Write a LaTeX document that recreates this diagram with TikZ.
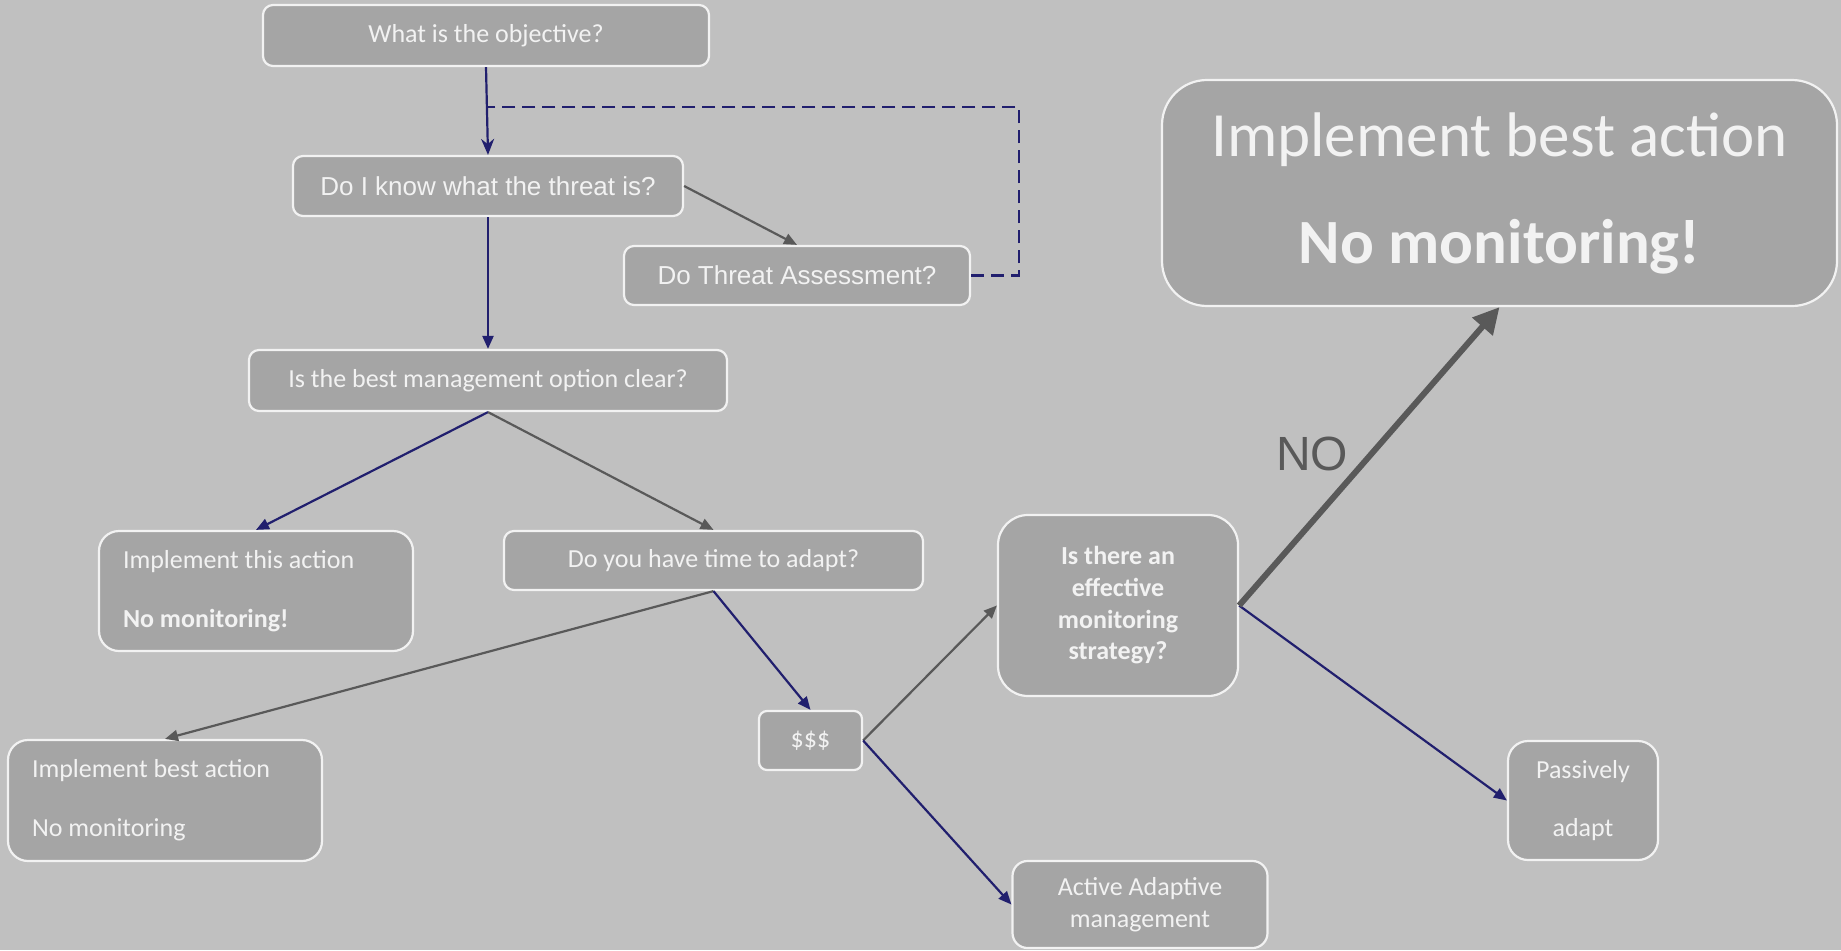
\documentclass[tikz,border=0pt]{standalone}
\usepackage{fontspec}
\setmainfont{Carlito}
\newfontfamily\arialfont{Liberation Sans}
\usetikzlibrary{arrows.meta}
\definecolor{canvas}{HTML}{C0C0C0}
\definecolor{boxfill}{HTML}{A5A5A5}
\definecolor{boxline}{HTML}{F2F2F2}
\definecolor{navy}{RGB}{33,31,110}
\definecolor{darkline}{HTML}{595959}

\begin{document}
\begin{tikzpicture}[x=1pt,y=-1pt,
  box/.style={draw=boxline, line width=2.2pt, fill=boxfill, text=boxline,
    inner sep=0pt, rounded corners=#1, align=center,
    font=\fontsize{26}{31.7}\selectfont},
  box/.default=10pt,
  leftbox/.style={align=flush left, inner xsep=24pt, text width=#1},
  arialtext/.style={font=\arialfont\fontsize{26}{31}\selectfont},
  gapped/.style={font=\fontsize{26}{58.7}\selectfont},
  yes/.style={draw=navy, line width=2.2pt, -{Triangle[length=13pt,width=11pt]}},
  no/.style={draw=darkline, line width=2.2pt, -{Triangle[length=13pt,width=11pt]}},
  loopback/.style={draw=navy, line width=2.8pt, dash pattern=on 13pt off 7pt},
  bigarrow/.style={draw=darkline, line width=6pt, -{Triangle[length=26pt,width=26pt]}}
]
% canvas
\fill[canvas] (0,0) rectangle (1841,950);
\useasboundingbox (0,0) rectangle (1841,950);

% question and action boxes
\node[box, minimum width=446pt, minimum height=61pt] (b1) at (486,35.5)
  {What is the objective?};
\node[box, arialtext, minimum width=390pt, minimum height=60pt] (b2) at (488,186)
  {Do I know what the threat is?};
\node[box, arialtext, minimum width=346pt, minimum height=59pt] (b3) at (797,275.5)
  {Do Threat Assessment?};
\node[box, minimum width=478pt, minimum height=61pt] (b4) at (488,380.5)
  {Is the best management option clear?};
\node[box=20pt, gapped, leftbox=266pt, minimum width=314pt, minimum height=120pt] (b5) at (256,591)
  {Implement this action\\\textbf{No monitoring!}};
\node[box, minimum width=419pt, minimum height=59pt] (b6) at (713.5,560.5)
  {Do you have time to adapt?};
\node[box=20pt, gapped, leftbox=266pt, minimum width=314pt, minimum height=121pt] (b7) at (165,800.5)
  {Implement best action\\No monitoring};
\node[box=8pt, minimum width=103pt, minimum height=59pt] (b8) at (810.5,740.5)
  {\$\$\$};
\node[box=30pt, font=\bfseries\fontsize{26}{31.7}\selectfont, minimum width=240pt, minimum height=181pt] (b9) at (1118,605.5)
  {Is there an\\effective\\monitoring\\strategy?};
\node[box=15pt, minimum width=255pt, minimum height=87pt] (b10) at (1140,904.5)
  {Active Adaptive\\management};
\node[box=20pt, gapped, minimum width=150pt, minimum height=119pt] (b11) at (1583,800.5)
  {Passively\\adapt};
\node[box=45pt, font=\fontsize{63}{107}\selectfont, minimum width=675pt, minimum height=226pt] (b12) at (1499.5,193)
  {Implement best action\\\textbf{No monitoring!}};

\node[text=darkline, font=\arialfont\fontsize{48}{48}\selectfont] (nolabel) at (1312,454) {NO};

% connectors
\draw[draw=navy, line width=2.2pt, -{Stealth[length=16pt,width=13pt]}] (b1.south) -- (b2.north);
\coordinate (loopc) at (1019,107);
\coordinate (loopl) at (488,107);
\draw[loopback] (b3.east) -| (loopc) -- (loopl);
\draw[no]  (b2.east) -- (b3.north);
\draw[yes] (b2.south) -- (b4.north);
\draw[yes] (b4.south) -- (b5.north);
\draw[no]  (b4.south) -- (b6.north);
\draw[no]  (b6.south) -- (b7.north);
\draw[yes] (b6.south) -- (b8.north);
\draw[no]  (b8.east) -- (b9.west);
\draw[yes] (b8.east) -- (b10.west);
\draw[yes] (b9.east) -- (b11.west);
\draw[bigarrow] (b9.east) -- (b12.south);
\end{tikzpicture}
\end{document}
